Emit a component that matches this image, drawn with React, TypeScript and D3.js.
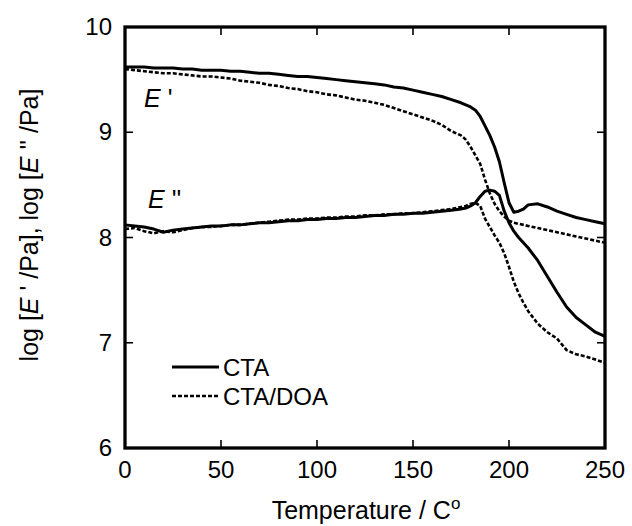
import * as d3 from "d3";
import React, { useEffect, useRef } from "react";

// temperature grid (°C), finer around the transition
const temps = [
  0, 5, 10, 15, 20, 25, 30, 35, 40, 45, 50, 55, 60, 65, 70, 75, 80, 85, 90, 95, 100,
  105, 110, 115, 120, 125, 130, 135, 140, 145, 150, 155, 160, 165, 170,
  175, 177.5, 180, 182.5, 185, 187.5, 190, 192.5, 195, 197.5, 200, 202.5, 205, 207.5, 210,
  215, 220, 225, 230, 235, 240, 245, 250,
];

// log E' storage modulus
const ctaStorage = [
  9.62, 9.62, 9.62, 9.61, 9.61, 9.61, 9.60, 9.60, 9.59, 9.59, 9.59, 9.58, 9.58, 9.57, 9.56, 9.56, 9.55, 9.54, 9.53, 9.53, 9.52,
  9.51, 9.50, 9.49, 9.48, 9.47, 9.46, 9.45, 9.43, 9.42, 9.40, 9.38, 9.36, 9.34, 9.31,
  9.28, 9.26, 9.24, 9.21, 9.15, 9.06, 8.97, 8.86, 8.72, 8.52, 8.33, 8.24, 8.25, 8.27, 8.31,
  8.32, 8.29, 8.25, 8.22, 8.19, 8.17, 8.15, 8.13,
];
const doaStorage = [
  9.60, 9.59, 9.58, 9.57, 9.56, 9.56, 9.55, 9.54, 9.53, 9.53, 9.52, 9.51, 9.49, 9.48, 9.47, 9.45, 9.44, 9.42, 9.41, 9.39, 9.38,
  9.36, 9.35, 9.33, 9.31, 9.30, 9.28, 9.26, 9.23, 9.20, 9.17, 9.14, 9.11, 9.07, 9.01,
  8.97, 8.93, 8.86, 8.78, 8.70, 8.55, 8.42, 8.32, 8.25, 8.20, 8.16, 8.14, 8.13, 8.12, 8.11,
  8.09, 8.07, 8.05, 8.03, 8.01, 7.99, 7.97, 7.95,
];

// log E'' loss modulus
const ctaLoss = [
  8.12, 8.11, 8.10, 8.08, 8.05, 8.07, 8.08, 8.09, 8.10, 8.11, 8.11, 8.12, 8.12, 8.13, 8.14, 8.14, 8.15, 8.16, 8.16, 8.17, 8.17,
  8.18, 8.18, 8.19, 8.19, 8.20, 8.21, 8.21, 8.22, 8.22, 8.23, 8.23, 8.24, 8.25, 8.26,
  8.27, 8.28, 8.30, 8.33, 8.39, 8.44, 8.45, 8.44, 8.40, 8.25, 8.14, 8.06, 8.00, 7.95, 7.90,
  7.78, 7.63, 7.48, 7.34, 7.24, 7.17, 7.10, 7.06,
];
const doaLoss = [
  8.08, 8.09, 8.06, 8.04, 8.06, 8.05, 8.07, 8.09, 8.10, 8.10, 8.11, 8.12, 8.12, 8.13, 8.14, 8.15, 8.16, 8.17, 8.17, 8.18, 8.18,
  8.19, 8.19, 8.20, 8.20, 8.21, 8.21, 8.22, 8.22, 8.23, 8.23, 8.24, 8.25, 8.26, 8.27,
  8.29, 8.30, 8.32, 8.33, 8.30, 8.18, 8.10, 8.02, 7.95, 7.85, 7.72, 7.58, 7.47, 7.38, 7.30,
  7.18, 7.10, 7.04, 6.93, 6.89, 6.87, 6.84, 6.81,
];

const xTicks = [0, 50, 100, 150, 200, 250];
const yTicks = [6, 7, 8, 9, 10];
const legendLabels = ["CTA", "CTA/DOA"];

const FONT = "'Liberation Sans', Arial, Helvetica, sans-serif";

export default function App() {
  const ref = useRef<SVGSVGElement | null>(null);

  useEffect(() => {
    if (!ref.current) return;
    const width = 632, height = 526;
    const margin = { top: 27, right: 27, bottom: 78, left: 125 };

    const svg = d3.select(ref.current);
    svg.selectAll("*").remove();

    const x = d3.scaleLinear().domain([0, 250]).range([margin.left, width - margin.right]);
    const y = d3.scaleLinear().domain([6, 10]).range([height - margin.bottom, margin.top]);

    const line = d3.line<[number, number]>()
      .x(d => x(d[0]))
      .y(d => y(d[1]));

    const series = [
      { values: ctaStorage, dash: null },
      { values: doaStorage, dash: "4,2" },
      { values: ctaLoss, dash: null },
      { values: doaLoss, dash: "4,2" },
    ];

    series.forEach(s => {
      svg.append("path")
        .datum(temps.map((t, i) => [t, s.values[i]] as [number, number]))
        .attr("d", line)
        .attr("fill", "none")
        .attr("stroke", "#000")
        .attr("stroke-width", s.dash ? 2.6 : 3)
        .attr("stroke-dasharray", s.dash)
        .attr("stroke-linejoin", "round");
    });

    // ticks (inward, all four sides)
    const tickLen = 8;
    const ticks = svg.append("g").attr("stroke", "#000").attr("stroke-width", 1.6);
    xTicks.forEach(t => {
      ticks.append("line").attr("x1", x(t)).attr("x2", x(t)).attr("y1", y(6)).attr("y2", y(6) - tickLen);
      ticks.append("line").attr("x1", x(t)).attr("x2", x(t)).attr("y1", y(10)).attr("y2", y(10) + tickLen);
    });
    yTicks.forEach(t => {
      ticks.append("line").attr("x1", x(0)).attr("x2", x(0) + tickLen).attr("y1", y(t)).attr("y2", y(t));
      ticks.append("line").attr("x1", x(250)).attr("x2", x(250) - tickLen).attr("y1", y(t)).attr("y2", y(t));
    });

    // frame
    svg.append("rect")
      .attr("x", x(0)).attr("y", y(10))
      .attr("width", x(250) - x(0)).attr("height", y(6) - y(10))
      .attr("fill", "none").attr("stroke", "#000").attr("stroke-width", 3.3);

    // tick labels
    svg.append("g").selectAll("text").data(xTicks).join("text")
      .attr("x", d => x(d)).attr("y", y(6) + 30)
      .attr("text-anchor", "middle")
      .style("font-family", FONT).style("font-size", "24px")
      .text(d => d);

    svg.append("g").selectAll("text").data(yTicks).join("text")
      .attr("x", x(0) - 13).attr("y", d => y(d) + 8)
      .attr("text-anchor", "end")
      .style("font-family", FONT).style("font-size", "24px")
      .text(d => d);

    // axis titles
    const xt = svg.append("text")
      .attr("x", 366).attr("y", 519)
      .attr("text-anchor", "middle")
      .style("font-family", FONT).style("font-size", "25px");
    xt.append("tspan").text("Temperature / C");
    xt.append("tspan").attr("dy", -10).style("font-size", "17px").text("o");

    const yt = svg.append("text")
      .attr("transform", "translate(38,225) rotate(-90)")
      .attr("text-anchor", "middle")
      .style("font-family", FONT).style("font-size", "25px");
    yt.append("tspan").text("log [");
    yt.append("tspan").style("font-style", "italic").text("E");
    yt.append("tspan").text(" ' /Pa], log [");
    yt.append("tspan").style("font-style", "italic").text("E");
    yt.append("tspan").text(" '' /Pa]");

    // curve annotations
    const a1 = svg.append("text").attr("x", 144).attr("y", 107)
      .style("font-family", FONT).style("font-size", "25px");
    a1.append("tspan").style("font-style", "italic").text("E");
    a1.append("tspan").text(" '");
    const a2 = svg.append("text").attr("x", 148).attr("y", 208)
      .style("font-family", FONT).style("font-size", "25px");
    a2.append("tspan").style("font-style", "italic").text("E");
    a2.append("tspan").text(" ''");

    // legend
    const legend = svg.append("g");
    legendLabels.forEach((lab, i) => {
      const ly = 367 + i * 29;
      legend.append("line")
        .attr("x1", 172).attr("x2", 219).attr("y1", ly).attr("y2", ly)
        .attr("stroke", "#000")
        .attr("stroke-width", i === 0 ? 3 : 2.6)
        .attr("stroke-dasharray", i === 0 ? null : "4,2");
      legend.append("text")
        .attr("x", 223).attr("y", ly + 9)
        .style("font-family", FONT).style("font-size", "24px")
        .text(lab);
    });
  }, []);

  return (
    <svg
      ref={ref}
      width={632}
      height={526}
      style={{ position: "absolute", left: 0, top: 0, background: "#fff" }}
    />
  );
}
